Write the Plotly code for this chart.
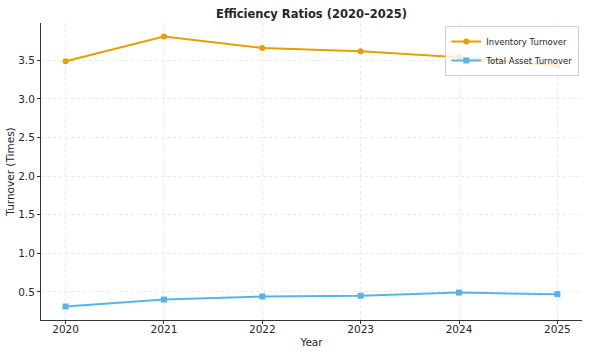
import plotly.graph_objects as go

years = [2020, 2021, 2022, 2023, 2024, 2025]
inventory_turnover = [3.49, 3.81, 3.66, 3.62, 3.54, 3.43]
total_asset_turnover = [0.31, 0.40, 0.44, 0.45, 0.49, 0.47]
y_ticks = [0.5, 1.0, 1.5, 2.0, 2.5, 3.0, 3.5]
y_tick_labels = ["0.5", "1.0", "1.5", "2.0", "2.5", "3.0", "3.5"]

font_family = "DejaVu Sans"

fig = go.Figure()
fig.add_trace(go.Scatter(
    x=years, y=inventory_turnover, mode="lines+markers", name="Inventory Turnover",
    line=dict(color="#E69F00", width=2), marker=dict(symbol="circle", size=6, color="#E69F00"),
))
fig.add_trace(go.Scatter(
    x=years, y=total_asset_turnover, mode="lines+markers", name="Total Asset Turnover",
    line=dict(color="#56B4E9", width=2), marker=dict(symbol="square", size=6, color="#56B4E9"),
))

fig.update_layout(
    width=591, height=354,
    margin=dict(l=41, r=9, t=23, b=34, autoexpand=False),
    paper_bgcolor="white", plot_bgcolor="white",
    font=dict(family=font_family, size=10.5, color="#262626"),
    title=dict(text="<b>Efficiency Ratios (2020–2025)</b>", x=(41 + 582) / 2 / 591, xanchor="center",
               y=1 - 14 / 354, yanchor="middle", font=dict(size=11.5, color="#262626")),
    showlegend=True,
    legend=dict(x=0.995, y=0.99, xanchor="right", yanchor="top",
                bgcolor="rgba(255,255,255,0.8)", bordercolor="#d0d0d0", borderwidth=1,
                font=dict(size=8.5, color="#262626"), tracegroupgap=0,
                itemwidth=30),
)
fig.update_xaxes(
    range=[2019.75, 2025.25], tickvals=years, ticktext=[str(y) for y in years],
    showline=True, linecolor="#333333", linewidth=1, mirror=False,
    ticks="outside", ticklen=3, tickcolor="#333333", ticklabelstandoff=-4,
    showgrid=True, gridcolor="#e8e8e8", griddash="dot", gridwidth=1,
    zeroline=False, automargin=False,
    title=dict(text="Year", font=dict(size=10.5), standoff=5),
)
fig.update_yaxes(
    range=[0.135, 3.985], tickvals=y_ticks, ticktext=y_tick_labels,
    showline=True, linecolor="#333333", linewidth=1, mirror=False,
    ticks="outside", ticklen=3, tickcolor="#333333",
    showgrid=True, gridcolor="#e8e8e8", griddash="dot", gridwidth=1,
    zeroline=False, automargin=False,
    title=dict(text="Turnover (Times)", font=dict(size=10.5), standoff=1),
)

fig.write_html("out.html")
